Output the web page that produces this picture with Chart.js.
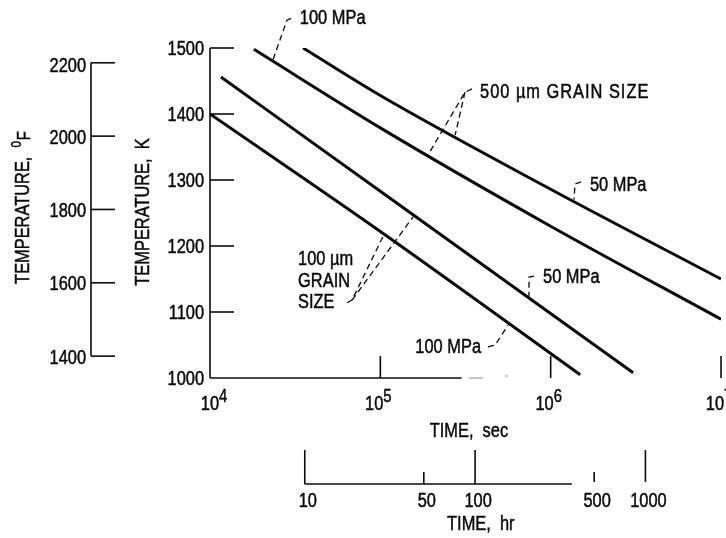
<!DOCTYPE html>
<html>
<head>
<meta charset="utf-8">
<script src="https://cdn.jsdelivr.net/npm/chart.js@4/dist/chart.umd.min.js"></script>
<style>
  html, body { margin: 0; padding: 0; background: #fff; }
  #wrap { width: 726px; height: 538px; }
</style>
</head>
<body>
<div id="wrap"><canvas id="creepChart" width="726" height="538"></canvas></div>
<script>
// données : temps (s) / température (K)
const fine100Time = [1.0e4, 1.0e5, 1.49e6];      // 100 um, 100 MPa
const fine100Temp = [1400, 1222, 1005];
const fine50Time = [1.16e4, 1.0e5, 3.05e6];      // 100 um, 50 MPa
const fine50Temp = [1456, 1283, 1008];
const coarse100Time = [1.81e4, 1.0e5, 1.0e6, 1.0e7]; // 500 um, 100 MPa
const coarse100Temp = [1498, 1379, 1230, 1089];
const coarse50Time = [3.52e4, 1.0e5, 1.0e6, 1.0e7];  // 500 um, 50 MPa
const coarse50Temp = [1500, 1428, 1286, 1150];

// graduations
const kTicks = [1000, 1100, 1200, 1300, 1400, 1500];
const fTicks = [1400, 1600, 1800, 2000, 2200];
const secTicks = [1e4, 1e5, 1e6, 1e7];
const secExp = ['4', '5', '6', '7'];
const hrTicks = [10, 50, 100, 500, 1000];
const hrMajor = [true, false, true, false, true];
const hrAxisEnd = 370; // l'axe des heures s'arrete vers 370 h sur la figure

const INK = '#0a0a0a';
const FONT = '"Liberation Sans", Arial, sans-serif';
const SX = 0.82; // police etroite (compression horizontale)

const toF = k => k * 1.8 - 459.67;
const pts = (t, v) => t.map((x, i) => ({ x: x, y: v[i] }));

// annotations (position en coordonnees donnees)
const notes = [
  { lines: ['100 MPa'], at: [3.37e4, 1545], align: 'left',
    leaders: [[[2.99e4, 1545], [2.83e4, 1542], [2.34e4, 1482]]] },
  { lines: ['500 \u00b5m GRAIN SIZE'], at: [3.85e5, 1432], align: 'left', spacing: 1.2,
    leaders: [[[3.45e5, 1438], [3.14e5, 1433], [1.905e5, 1338]],
              [[3.14e5, 1433], [2.75e5, 1368]]] },
  { lines: ['50 MPa'], at: [1.70e6, 1291], align: 'left',
    leaders: [[[1.51e6, 1297], [1.39e6, 1294], [1.37e6, 1270]]] },
  { lines: ['50 MPa'], at: [9.02e5, 1153], align: 'left',
    leaders: [[[8.0e5, 1154.5], [7.46e5, 1153], [7.46e5, 1118]]] },
  { lines: ['100 MPa'], at: [3.90e5, 1045.5], align: 'right',
    leaders: [[[4.29e5, 1047], [4.72e5, 1050], [5.62e5, 1080]]] },
  { lines: ['100 \u00b5m', 'GRAIN', 'SIZE'], at: [3.29e4, 1179], align: 'left',
    leaders: [[[6.37e4, 1114], [6.82e4, 1118], [1.04e5, 1215]],
              [[6.82e4, 1118], [1.556e5, 1244]]] }
];

function seg(ctx, x1, y1, x2, y2) {
  ctx.beginPath();
  ctx.moveTo(x1, y1);
  ctx.lineTo(x2, y2);
  ctx.stroke();
}

function textWidth(ctx, s, size) {
  ctx.font = size + 'px ' + FONT;
  return ctx.measureText(s).width * SX;
}

// texte etroit, retourne la largeur
function ntext(ctx, s, x, y, size, align) {
  const w = textWidth(ctx, s, size);
  const x0 = align === 'right' ? x - w : (align === 'center' ? x - w / 2 : x);
  ctx.save();
  ctx.translate(x0, y);
  ctx.scale(SX, 1);
  ctx.textAlign = 'left';
  ctx.lineWidth = 0.5;
  ctx.setLineDash([]);
  ctx.fillText(s, 0, 0);
  ctx.strokeText(s, 0, 0); // un peu plus gras, comme le scan
  ctx.restore();
  return w;
}

const drawAxes = {
  id: 'drawAxes',
  afterDraw(chart) {
    const { ctx, chartArea: a, scales } = chart;
    const x = scales.x, y = scales.y, yF = scales.yF, xh = scales.xh;
    ctx.save();
    ctx.strokeStyle = INK;
    ctx.fillStyle = INK;
    ctx.lineCap = 'butt';
    ctx.textBaseline = 'middle';

    // axe K
    ctx.lineWidth = 1.6;
    seg(ctx, a.left, y.getPixelForValue(1500), a.left, y.getPixelForValue(1000));
    kTicks.forEach(k => {
      const py = y.getPixelForValue(k);
      if (k !== 1000) seg(ctx, a.left, py, a.left + 24, py);
      ntext(ctx, String(k), a.left - 6, py + 1, 20, 'right');
    });

    // axe F (a gauche)
    const fx = a.left - 119;
    ctx.lineWidth = 1.6;
    seg(ctx, fx, yF.getPixelForValue(2200), fx, yF.getPixelForValue(1400));
    fTicks.forEach((f, i) => {
      const py = yF.getPixelForValue(f);
      ctx.lineWidth = 1.6;
      seg(ctx, fx, py, fx + 24, py);
      ntext(ctx, String(f), fx - 5, py + (i === fTicks.length - 1 ? 4 : 2), 20, 'right');
    });

    // axe du temps en secondes
    const xb = a.bottom;
    ctx.lineWidth = 1.6;
    seg(ctx, a.left, xb, x.getPixelForValue(3.0e5), xb);
    ctx.save();
    ctx.strokeStyle = '#888';
    ctx.lineWidth = 1;
    seg(ctx, x.getPixelForValue(3.3e5), xb, x.getPixelForValue(4.0e5), xb);
    seg(ctx, x.getPixelForValue(5.4e5), xb - 2, x.getPixelForValue(5.6e5), xb - 2);
    ctx.restore();
    secTicks.forEach((t, i) => {
      const px = x.getPixelForValue(t);
      ctx.lineWidth = 1.6;
      if (i > 0) seg(ctx, px, xb - 22, px, xb);
      const w1 = textWidth(ctx, '10', 20);
      const w2 = textWidth(ctx, secExp[i], 18);
      const x0 = px - (w1 + w2) / 2 + (i === 0 ? 4 : -2);
      ntext(ctx, '10', x0, xb + 26, 20, 'left');
      ntext(ctx, secExp[i], x0 + w1, xb + 19, 18, 'left');
    });
    ntext(ctx, 'TIME,  sec', x.getPixelForValue(Math.pow(10, 5.52)), xb + 53, 20, 'center');

    // axe du temps en heures
    const hb = a.bottom + 106;
    ctx.lineWidth = 1.6;
    seg(ctx, xh.getPixelForValue(hrTicks[0]), hb, xh.getPixelForValue(hrAxisEnd), hb);
    hrTicks.forEach((h, i) => {
      const px = xh.getPixelForValue(h);
      const top = hrMajor[i] ? hb - 34 : hb - 12;
      const bot = h > hrAxisEnd ? hb - 2 : hb;
      ctx.lineWidth = 1.6;
      seg(ctx, px, top, px, bot);
      ntext(ctx, String(h), px + 3, hb + 17, 20, 'center');
    });
    ntext(ctx, 'TIME,  hr', xh.getPixelForValue(108), hb + 40, 20, 'center');

    // titres verticaux
    ctx.save();
    ctx.translate(a.left - 67, 212);
    ctx.rotate(-Math.PI / 2);
    ntext(ctx, 'TEMPERATURE,  K', 0, 0, 20, 'center');
    ctx.restore();

    ctx.save();
    ctx.translate(a.left - 187, 208);
    ctx.rotate(-Math.PI / 2);
    const tt = 'TEMPERATURE,  ';
    const wt = textWidth(ctx, tt, 20);
    const w0 = textWidth(ctx, '0', 14);
    const wF = textWidth(ctx, 'F', 18);
    const sx = -(wt + w0 + wF) / 2;
    ntext(ctx, tt, sx, 0, 20, 'left');
    ntext(ctx, '0', sx + wt, -6, 14, 'left');
    ntext(ctx, 'F', sx + wt + w0 + 1, 2, 18, 'left');
    ctx.restore();

    // annotations et traits pointilles
    notes.forEach(n => {
      n.leaders.forEach(path => {
        ctx.beginPath();
        path.forEach((p, j) => {
          const px = x.getPixelForValue(p[0]), py = y.getPixelForValue(p[1]);
          if (j === 0) ctx.moveTo(px, py); else ctx.lineTo(px, py);
        });
        ctx.lineWidth = 1.3;
        ctx.setLineDash([6, 4]);
        ctx.stroke();
      });
      ctx.setLineDash([]);
      if ('letterSpacing' in ctx) ctx.letterSpacing = (n.spacing || 0) + 'px';
      const px = x.getPixelForValue(n.at[0]);
      const py = y.getPixelForValue(n.at[1]);
      n.lines.forEach((l, j) => ntext(ctx, l, px, py + j * 21.5, 20, n.align));
      if ('letterSpacing' in ctx) ctx.letterSpacing = '0px';
    });

    ctx.restore();
  }
};

const lineStyle = {
  borderColor: INK,
  borderWidth: 3,
  pointRadius: 0,
  fill: false,
  cubicInterpolationMode: 'monotone'
};

const ctx = document.getElementById('creepChart').getContext('2d');
const chart = new Chart(ctx, {
  type: 'line',
  data: {
    datasets: [
      Object.assign({ label: '100 um, 100 MPa', data: pts(fine100Time, fine100Temp) }, lineStyle),
      Object.assign({ label: '100 um, 50 MPa', data: pts(fine50Time, fine50Temp) }, lineStyle),
      Object.assign({ label: '500 um, 100 MPa', data: pts(coarse100Time, coarse100Temp) }, lineStyle),
      Object.assign({ label: '500 um, 50 MPa', data: pts(coarse50Time, coarse50Temp) }, lineStyle)
    ]
  },
  options: {
    responsive: false,
    animation: false,
    layout: { padding: { left: 210, top: 48, right: 5, bottom: 160 } },
    plugins: { legend: { display: false }, tooltip: { enabled: false } },
    scales: {
      x: { type: 'logarithmic', min: 1e4, max: 1e7, display: false },
      y: { type: 'linear', min: 1000, max: 1500, display: false },
      yF: { type: 'linear', position: 'left', min: toF(1000), max: toF(1500), display: false },
      xh: { type: 'logarithmic', position: 'bottom', min: 1e4 / 3600, max: 1e7 / 3600, display: false }
    }
  },
  plugins: [drawAxes]
});
</script>
</body>
</html>
